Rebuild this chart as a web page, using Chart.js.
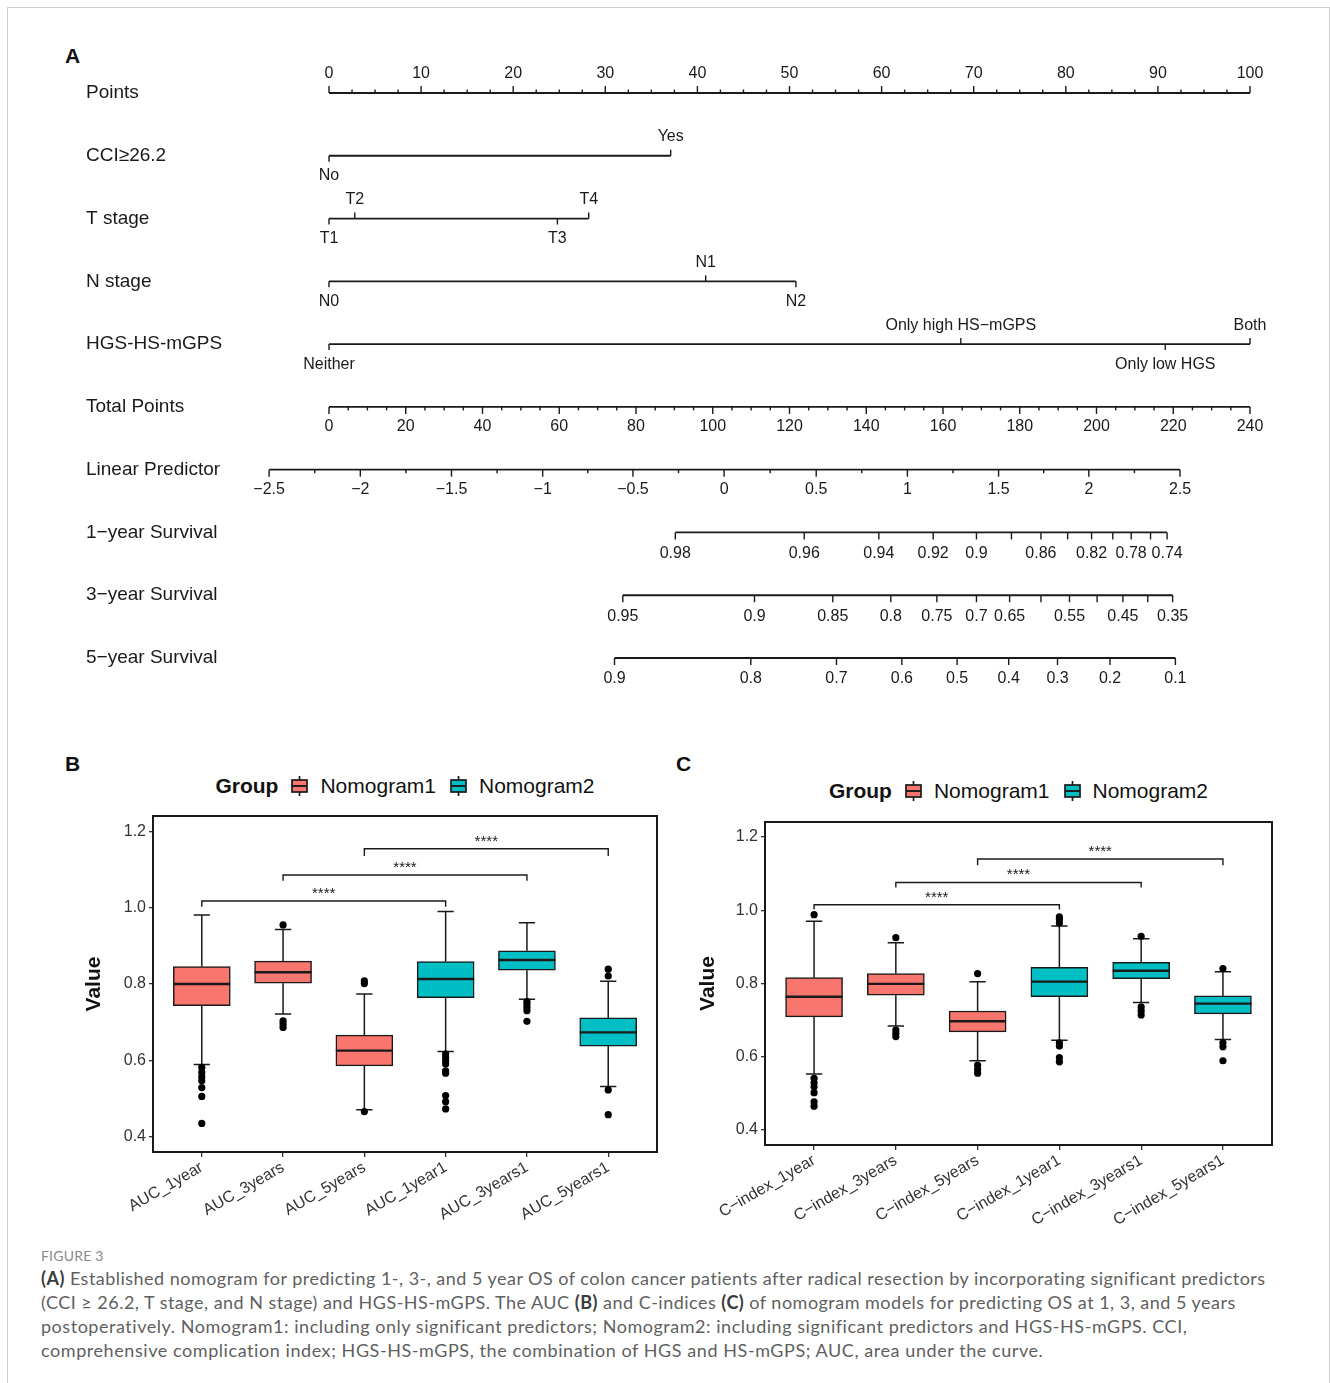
<!DOCTYPE html>
<html>
<head>
<meta charset="utf-8">
<title>Figure 3</title>
<script src="https://cdn.jsdelivr.net/npm/chart.js@4.4.1/dist/chart.umd.min.js"></script>
<style>
  html, body { margin: 0; padding: 0; background: #fff; }
  body { width: 1330px; height: 1383px; position: relative; overflow: hidden; font-family: "Liberation Sans", Arial, sans-serif; }
  .sheet { position: absolute; left: 7px; top: 7px; width: 1323px; height: 1420px; border: 1px solid #cfcfcf; box-sizing: border-box; }
  .tag { position: absolute; font-weight: bold; font-size: 21px; line-height: 21px; color: #111; }
  canvas { position: absolute; }
  .legend { position: absolute; height: 28px; display: flex; align-items: center; justify-content: center; font-size: 21px; color: #111; white-space: nowrap; }
  .legend b { margin-right: 13px; }
  .legend svg { margin-right: 12px; }
  .legend span { margin-right: 14px; }
  .legend span:last-child { margin-right: 0; }
  .caption { position: absolute; left: 41px; top: 1246px; font-family: Lato, "Open Sans", sans-serif; color: #5f5f5f; }
  .caption .fig { font-size: 14px; color: #8a8a8a; height: 20px; line-height: 20px; letter-spacing: 0.2px; }
  .caption .line { font-size: 18px; line-height: 24px; height: 24px; white-space: nowrap; display: block; width: max-content; }
  .caption b { color: #3c3c3c; }
</style>
</head>
<body>
<div class="sheet"></div>

<div class="tag" style="left:65px; top:45px;">A</div>
<canvas id="nomogram" width="1330" height="720" style="left:0; top:0;"></canvas>

<div class="tag" style="left:65px; top:753px;">B</div>
<div class="legend" id="legendAuc" style="left:153px; width:504px; top:772px;"></div>
<canvas id="aucChart" width="620" height="440" style="left:60px; top:800px;"></canvas>

<div class="tag" style="left:676px; top:753px;">C</div>
<div class="legend" id="legendC" style="left:765px; width:507px; top:777px;"></div>
<canvas id="cindexChart" width="640" height="440" style="left:680px; top:800px;"></canvas>

<div class="caption">
  <div class="fig">FIGURE 3</div>
  <div class="line" data-fit="1225"><b>(A)</b> Established nomogram for predicting 1-, 3-, and 5 year OS of colon cancer patients after radical resection by incorporating significant predictors</div>
  <div class="line" data-fit="1195">(CCI ≥ 26.2, T stage, and N stage) and HGS-HS-mGPS. The AUC <b>(B)</b> and C-indices <b>(C)</b> of nomogram models for predicting OS at 1, 3, and 5 years</div>
  <div class="line" data-fit="1146">postoperatively. Nomogram1: including only significant predictors; Nomogram2: including significant predictors and HGS-HS-mGPS. CCI,</div>
  <div class="line" data-fit="1003">comprehensive complication index; HGS-HS-mGPS, the combination of HGS and HS-mGPS; AUC, area under the curve.</div>
</div>

<script>
// ---- nomogram (panel A): positions are on the 0-100 "Points" scale ----
const rowLabels = ["Points", "CCI≥26.2", "T stage", "N stage", "HGS-HS-mGPS", "Total Points",
  "Linear Predictor", "1−year Survival", "3−year Survival", "5−year Survival"];
const pointTicks = [0, 10, 20, 30, 40, 50, 60, 70, 80, 90, 100];
const cciLevels = ["No", "Yes"];
const cciPoints = [0, 37.1];
const tStageLevels = ["T1", "T2", "T3", "T4"];
const tStagePoints = [0, 2.8, 24.8, 28.2];
const nStageLevels = ["N0", "N1", "N2"];
const nStagePoints = [0, 40.9, 50.7];
const hgsLevels = ["Neither", "Only high HS−mGPS", "Only low HGS", "Both"];
const hgsPoints = [0, 68.6, 90.8, 100];
const totalPointTicks = [0, 20, 40, 60, 80, 100, 120, 140, 160, 180, 200, 220, 240];
const lpLabels = ["−2.5", "−2", "−1.5", "−1", "−0.5", "0", "0.5", "1", "1.5", "2", "2.5"];
const lpPoints = [-6.5, 3.4, 13.3, 23.2, 33.0, 42.9, 52.9, 62.8, 72.7, 82.5, 92.4];
const surv1Labels = ["0.98", "0.96", "0.94", "0.92", "0.9", "", "0.86", "", "0.82", "", "0.78", "", "0.74"];
const surv1Points = [37.6, 51.6, 59.7, 65.6, 70.3, 74.1, 77.3, 80.2, 82.8, 85.1, 87.1, 89.2, 91.0];
const surv3Labels = ["0.95", "0.9", "0.85", "0.8", "0.75", "0.7", "0.65", "", "0.55", "", "0.45", "", "0.35"];
const surv3Points = [31.9, 46.2, 54.7, 61.0, 66.0, 70.3, 73.9, 77.3, 80.4, 83.4, 86.2, 88.9, 91.6];
const surv5Labels = ["0.9", "0.8", "0.7", "0.6", "0.5", "0.4", "0.3", "0.2", "0.1"];
const surv5Points = [31.0, 45.8, 55.1, 62.2, 68.2, 73.8, 79.1, 84.8, 91.9];

// ---- boxplots (panels B and C) ----
const groupNames = ["Nomogram1", "Nomogram2"];
const groupColors = ["#F8766D", "#00BFC4"];
const valueTicks = [0.4, 0.6, 0.8, 1.0, 1.2];

const aucCategories = ["AUC_1year", "AUC_3years", "AUC_5years", "AUC_1year1", "AUC_3years1", "AUC_5years1"];
const aucLower = [0.589, 0.721, 0.470, 0.623, 0.760, 0.531];
const aucQ1 = [0.743, 0.802, 0.585, 0.764, 0.836, 0.637];
const aucMedian = [0.800, 0.831, 0.625, 0.813, 0.863, 0.673];
const aucQ3 = [0.846, 0.860, 0.666, 0.859, 0.887, 0.711];
const aucUpper = [0.981, 0.943, 0.774, 0.990, 0.961, 0.807];
const aucOutliers = [
  [0.581, 0.568, 0.556, 0.546, 0.528, 0.505, 0.434],
  [0.955, 0.703, 0.695, 0.686],
  [0.808, 0.801, 0.465],
  [0.616, 0.607, 0.598, 0.590, 0.572, 0.566, 0.507, 0.491, 0.472],
  [0.754, 0.747, 0.738, 0.730, 0.702],
  [0.839, 0.821, 0.522, 0.457]
];
const aucBracketPairs = [[0, 3], [1, 4], [2, 5]];
const aucBracketY = [1.018, 1.086, 1.155];
const aucBracketTip = [1.003, 1.071, 1.136];

const cCategories = ["C−index_1year", "C−index_3years", "C−index_5years", "C−index_1year1", "C−index_3years1", "C−index_5years1"];
const cLower = [0.553, 0.684, 0.589, 0.645, 0.748, 0.647];
const cQ1 = [0.709, 0.768, 0.668, 0.764, 0.813, 0.717];
const cMedian = [0.764, 0.799, 0.697, 0.805, 0.835, 0.745];
const cQ3 = [0.816, 0.827, 0.725, 0.844, 0.858, 0.766];
const cUpper = [0.970, 0.911, 0.805, 0.957, 0.922, 0.832];
const cOutliers = [
  [0.988, 0.541, 0.529, 0.518, 0.502, 0.477, 0.465],
  [0.925, 0.673, 0.664, 0.655],
  [0.827, 0.577, 0.565, 0.555],
  [0.982, 0.975, 0.965, 0.638, 0.629, 0.598, 0.586],
  [0.929, 0.736, 0.725, 0.714],
  [0.841, 0.638, 0.627, 0.589]
];
const cBracketPairs = [[0, 3], [1, 4], [2, 5]];
const cBracketY = [1.015, 1.076, 1.140];
const cBracketTip = [1.002, 1.062, 1.123];

const INK = "#1a1a1a";
const FONT = "\"Liberation Sans\", Arial, Helvetica, sans-serif";
Chart.defaults.font.family = FONT;
Chart.defaults.animation = false;

const totalToPoints = (v) => v * 100 / totalPointTicks[totalPointTicks.length - 1];

// ---------- Panel A ----------
const nomogramPlugin = {
  id: "nomogramAxes",
  afterDatasetsDraw(chart) {
    const { ctx } = chart;
    const xs = chart.scales.x;
    const ys = chart.scales.y;
    const px = (p) => xs.getPixelForValue(p);
    const py = (row) => ys.getPixelForValue(row);

    ctx.save();
    ctx.strokeStyle = INK;
    ctx.fillStyle = INK;
    ctx.lineWidth = 1.4;

    const tick = (p, row, len) => {
      ctx.beginPath();
      ctx.moveTo(px(p), py(row));
      ctx.lineTo(px(p), py(row) + len);
      ctx.stroke();
    };
    const text = (p, row, str, dy) => ctx.fillText(str, px(p), py(row) + dy);

    ctx.font = `19px ${FONT}`;
    ctx.textAlign = "left";
    ctx.textBaseline = "middle";
    rowLabels.forEach((label, row) => ctx.fillText(label, 86, py(row)));

    ctx.font = `16px ${FONT}`;
    ctx.textAlign = "center";

    pointTicks.forEach((v, i) => {
      tick(v, 0, -7);
      text(v, 0, String(v), -19);
      if (i < pointTicks.length - 1) {
        const step = (pointTicks[i + 1] - v) / 4;
        for (let k = 1; k < 4; k++) tick(v + step * k, 0, -3.5);
      }
    });

    [[cciLevels, cciPoints], [tStageLevels, tStagePoints], [nStageLevels, nStagePoints], [hgsLevels, hgsPoints]]
      .forEach(([levels, pts], r) => {
        const row = r + 1;
        levels.forEach((level, i) => {
          const above = i % 2 === 1;
          tick(pts[i], row, above ? -6 : 6);
          text(pts[i], row, level, above ? -19 : 20);
        });
      });

    totalPointTicks.forEach((v, i) => {
      tick(totalToPoints(v), 5, 7);
      text(totalToPoints(v), 5, String(v), 20);
      if (i < totalPointTicks.length - 1) {
        const step = (totalPointTicks[i + 1] - v) / 4;
        for (let k = 1; k < 4; k++) tick(totalToPoints(v + step * k), 5, 3.5);
      }
    });

    lpPoints.forEach((p, i) => {
      tick(p, 6, 7);
      text(p, 6, lpLabels[i], 20);
      if (i < lpPoints.length - 1) tick((p + lpPoints[i + 1]) / 2, 6, 3.5);
    });

    [[surv1Points, surv1Labels], [surv3Points, surv3Labels], [surv5Points, surv5Labels]].forEach(([pts, labels], r) => {
      const row = 7 + r;
      pts.forEach((p, i) => {
        tick(p, row, 7);
        if (labels[i]) text(p, row, labels[i], 21);
      });
    });
    ctx.restore();
  }
};

const rowSpans = [
  [pointTicks[0], pointTicks[pointTicks.length - 1]],
  [cciPoints[0], cciPoints[cciPoints.length - 1]],
  [tStagePoints[0], tStagePoints[tStagePoints.length - 1]],
  [nStagePoints[0], nStagePoints[nStagePoints.length - 1]],
  [hgsPoints[0], hgsPoints[hgsPoints.length - 1]],
  [totalToPoints(totalPointTicks[0]), totalToPoints(totalPointTicks[totalPointTicks.length - 1])],
  [lpPoints[0], lpPoints[lpPoints.length - 1]],
  [surv1Points[0], surv1Points[surv1Points.length - 1]],
  [surv3Points[0], surv3Points[surv3Points.length - 1]],
  [surv5Points[0], surv5Points[surv5Points.length - 1]]
];

// pixel layout: Points 0 at x=329, 100 at x=1250, chart area 240..1290
const pxPerPoint = (1250 - 329) / 100;
new Chart(document.getElementById("nomogram"), {
  type: "line",
  data: {
    datasets: rowSpans.map(([a, b], row) => ({
      label: rowLabels[row],
      data: [{ x: a, y: row }, { x: b, y: row }],
      borderColor: INK,
      borderWidth: 1.8,
      pointRadius: 0,
      clip: false
    }))
  },
  options: {
    responsive: false,
    layout: { padding: { left: 240, right: 40, top: 61.6, bottom: 30.6 } },
    scales: {
      x: { type: "linear", display: false, min: (240 - 329) / pxPerPoint, max: (1290 - 329) / pxPerPoint },
      y: { type: "linear", display: false, reverse: true, min: -0.5, max: 9.5 }
    },
    plugins: { legend: { display: false }, tooltip: { enabled: false } }
  },
  plugins: [nomogramPlugin]
});

// ---------- Panels B and C ----------
function buildLegend(el) {
  const parts = ["<b>Group</b>"];
  groupNames.forEach((name, g) => {
    parts.push(
      `<svg width="17" height="20" viewBox="0 0 17 20">` +
      `<line x1="8.5" y1="0" x2="8.5" y2="4" stroke="${INK}" stroke-width="1.7"/>` +
      `<line x1="8.5" y1="16" x2="8.5" y2="20" stroke="${INK}" stroke-width="1.7"/>` +
      `<rect x="1" y="4" width="15" height="12" fill="${groupColors[g]}" stroke="${INK}" stroke-width="1.7"/>` +
      `<line x1="1" y1="10" x2="16" y2="10" stroke="${INK}" stroke-width="1.9"/></svg>` +
      `<span>${name}</span>`
    );
  });
  el.innerHTML = parts.join("");
}

function makeBoxPlot(canvasId, s, layout) {
  const groupOf = (i) => (i < 3 ? 0 : 1);

  const boxPlugin = {
    id: "boxParts",
    beforeDatasetsDraw(chart) {
      const { ctx } = chart;
      const xs = chart.scales.x;
      const ys = chart.scales.y;
      ctx.save();
      ctx.strokeStyle = INK;
      ctx.lineWidth = 1.5;
      s.categories.forEach((c, i) => {
        const x = xs.getPixelForValue(i);
        const capHalf = xs.getPixelForValue(i + 0.1) - x;
        const yUp = ys.getPixelForValue(s.upper[i]);
        const yLo = ys.getPixelForValue(s.lower[i]);
        ctx.beginPath();
        ctx.moveTo(x, yUp); ctx.lineTo(x, ys.getPixelForValue(s.q3[i]));
        ctx.moveTo(x, ys.getPixelForValue(s.q1[i])); ctx.lineTo(x, yLo);
        ctx.moveTo(x - capHalf, yUp); ctx.lineTo(x + capHalf, yUp);
        ctx.moveTo(x - capHalf, yLo); ctx.lineTo(x + capHalf, yLo);
        ctx.stroke();
      });
      ctx.restore();
    },
    afterDatasetsDraw(chart) {
      const { ctx, chartArea } = chart;
      const xs = chart.scales.x;
      const ys = chart.scales.y;
      ctx.save();
      ctx.strokeStyle = INK;

      // medians across each box
      ctx.lineWidth = 2.4;
      groupNames.forEach((name, g) => {
        const meta = chart.getDatasetMeta(g);
        meta.data.forEach((bar, k) => {
          const i = chart.data.datasets[g].data[k].x;
          const y = ys.getPixelForValue(s.median[i]);
          ctx.beginPath();
          ctx.moveTo(bar.x - bar.width / 2, y);
          ctx.lineTo(bar.x + bar.width / 2, y);
          ctx.stroke();
        });
      });

      // significance brackets
      ctx.lineWidth = 1.4;
      ctx.fillStyle = INK;
      ctx.font = `15px ${FONT}`;
      ctx.textAlign = "center";
      ctx.textBaseline = "alphabetic";
      s.bracketPairs.forEach(([a, b], j) => {
        const xa = xs.getPixelForValue(a);
        const xb = xs.getPixelForValue(b);
        const yb = ys.getPixelForValue(s.bracketY[j]);
        const yt = ys.getPixelForValue(s.bracketTip[j]);
        ctx.beginPath();
        ctx.moveTo(xa, yt); ctx.lineTo(xa, yb); ctx.lineTo(xb, yb); ctx.lineTo(xb, yt);
        ctx.stroke();
        ctx.fillText("****", (xa + xb) / 2, yb - 3);
      });

      // panel border
      ctx.lineWidth = 2;
      ctx.strokeRect(chartArea.left, chartArea.top, chartArea.right - chartArea.left, chartArea.bottom - chartArea.top);
      ctx.restore();
    }
  };

  const boxDatasets = groupNames.map((name, g) => ({
    type: "bar",
    label: name,
    data: s.categories
      .map((c, i) => ({ x: i, y: [s.q1[i], s.q3[i]] }))
      .filter((d) => groupOf(d.x) === g),
    backgroundColor: groupColors[g],
    borderColor: INK,
    borderWidth: 1.5,
    borderSkipped: false,
    barThickness: 57,
    grouped: false,
    order: 2
  }));

  const outlierDataset = {
    type: "scatter",
    label: "outliers",
    data: s.outliers.flatMap((vals, i) => vals.map((v) => ({ x: i, y: v }))),
    backgroundColor: "#000",
    borderWidth: 0,
    pointRadius: 3.6,
    order: 0
  };

  new Chart(document.getElementById(canvasId), {
    type: "bar",
    data: { datasets: [...boxDatasets, outlierDataset] },
    options: {
      responsive: false,
      layout: { padding: { left: 0, top: layout.padTop, right: layout.padRight, bottom: 0 } },
      scales: {
        x: {
          type: "linear",
          min: -0.6,
          max: s.categories.length - 0.4,
          offset: false,
          afterBuildTicks: (sc) => { sc.ticks = s.categories.map((c, i) => ({ value: i })); },
          afterFit: (sc) => { sc.height = layout.xHeight; },
          ticks: {
            callback: (v) => s.categories[v],
            minRotation: 30,
            maxRotation: 30,
            autoSkip: false,
            color: "#333",
            font: { size: 16 },
            padding: 1
          },
          grid: { offset: false, drawOnChartArea: false, tickLength: 5, color: "#333", lineWidth: 1.3 },
          border: { display: false }
        },
        y: {
          min: 0.359,
          max: 1.241,
          afterBuildTicks: (sc) => { sc.ticks = valueTicks.map((v) => ({ value: v })); },
          afterFit: (sc) => { sc.width = layout.yWidth; },
          ticks: { callback: (v) => v.toFixed(1), color: "#333", font: { size: 16 }, padding: 3 },
          grid: { drawOnChartArea: false, tickLength: 4, color: "#333", lineWidth: 1.3 },
          border: { display: false },
          title: {
            display: true,
            text: "Value",
            color: "#111",
            font: { size: 21, weight: "bold" },
            padding: { top: layout.titlePad, bottom: 0 }
          }
        }
      },
      plugins: { legend: { display: false }, tooltip: { enabled: false } }
    },
    plugins: [boxPlugin]
  });
}

buildLegend(document.getElementById("legendAuc"));
buildLegend(document.getElementById("legendC"));

makeBoxPlot("aucChart", {
  categories: aucCategories, lower: aucLower, q1: aucQ1, median: aucMedian, q3: aucQ3, upper: aucUpper,
  outliers: aucOutliers, bracketPairs: aucBracketPairs, bracketY: aucBracketY, bracketTip: aucBracketTip
}, { yWidth: 93, xHeight: 88, padTop: 16, padRight: 23, titlePad: 22 });

makeBoxPlot("cindexChart", {
  categories: cCategories, lower: cLower, q1: cQ1, median: cMedian, q3: cQ3, upper: cUpper,
  outliers: cOutliers, bracketPairs: cBracketPairs, bracketY: cBracketY, bracketTip: cBracketTip
}, { yWidth: 85, xHeight: 95, padTop: 22, padRight: 48, titlePad: 16 });

// stretch caption lines to the widths they have in the printed figure
document.querySelectorAll(".caption .line").forEach((el) => {
  const target = Number(el.dataset.fit);
  const natural = el.getBoundingClientRect().width;
  const chars = el.textContent.length;
  el.style.letterSpacing = ((target - natural) / chars).toFixed(3) + "px";
});
</script>
</body>
</html>
